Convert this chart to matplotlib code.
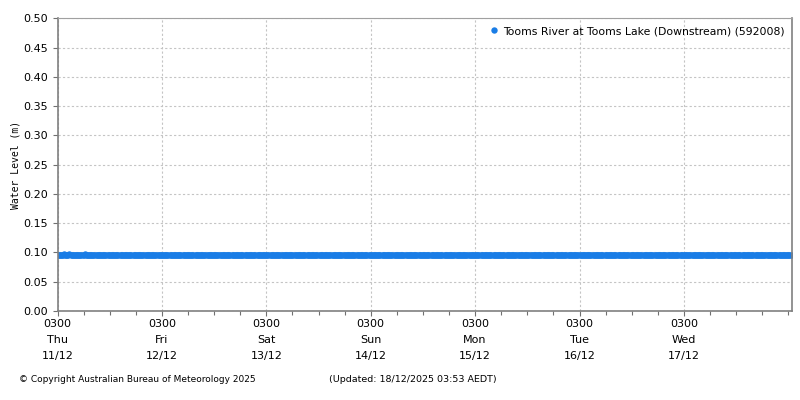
import pandas as pd
import matplotlib
matplotlib.use("Agg")
import matplotlib.pyplot as plt
import matplotlib.dates as mdates

#Station reading (15 minute water level, m)
station = 'Tooms River at Tooms Lake (Downstream) (592008)'
start_time = '2025-12-11 03:00'
end_time = '2025-12-18 03:45'
level_values = [0.095, 0.097, 0.095, 0.097, 0.095, 0.097, 0.095]
level_counts = [6, 1, 4, 1, 13, 1, 650]

#x axis labels
tick_days = ['Thu', 'Fri', 'Sat', 'Sun', 'Mon', 'Tue', 'Wed']
tick_dates = ['11/12', '12/12', '13/12', '14/12', '15/12', '16/12', '17/12']

times = pd.date_range(start=start_time, end=end_time, freq='15min')
levels = []
for v, n in zip(level_values, level_counts):
    levels += [v] * n

plt.rcParams['font.family'] = ['DejaVu Sans']
fig = plt.figure(figsize=(8, 4), dpi=100)
ax = fig.add_axes([0.0719, 0.2225, 0.918, 0.7313])

ax.plot(times, levels, linestyle='none', marker='o', markersize=4.6,
        markeredgewidth=0, color='#1a7de6', label=station)

ax.set_ylim(0, 0.5)
ax.set_yticks([i * 0.05 for i in range(11)])
ax.set_yticklabels(['%.2f' % (i * 0.05) for i in range(11)])
ax.set_xlim(pd.Timestamp('2025-12-11 03:00'), pd.Timestamp('2025-12-18 03:50'))

major = pd.date_range(start='2025-12-11 03:00', periods=7, freq='D')
ax.set_xticks(major)
ax.set_xticklabels(['0300\n' + d + '\n' + dt for d, dt in zip(tick_days, tick_dates)],
                   linespacing=1.75)
ax.xaxis.set_minor_locator(mdates.HourLocator(byhour=[3, 9, 15, 21]))

ax.grid(True, which='major', linestyle=(0, (2, 2)), color='#c4c4c4', linewidth=0.8)
ax.tick_params(axis='both', which='major', labelsize=8, length=3.5, color='#707070', width=0.8)
ax.tick_params(axis='x', which='major', pad=2)
ax.tick_params(axis='x', which='minor', length=3, color='#707070', width=0.8)
for s in ['left', 'bottom', 'right']:
    ax.spines[s].set_color('#808080')
    ax.spines[s].set_linewidth(1.2)
ax.spines['top'].set_color('#a0a0a0')
ax.spines['top'].set_linewidth(0.8)

ax.set_ylabel('Water Level (m)', family='DejaVu Sans Mono', fontsize=7, labelpad=2)

ax.legend(loc='upper right', frameon=False, fontsize=7.8, handletextpad=0.3,
          markerscale=1.0, borderaxespad=0.3, handlelength=1.0)

fig.text(0.024, 0.05, '\u00a9 Copyright Australian Bureau of Meteorology 2025', fontsize=6.5, va='center')
fig.text(0.411, 0.05, '(Updated: 18/12/2025 03:53 AEDT)', fontsize=6.8, va='center')

plt.savefig('out.png', dpi=100)
